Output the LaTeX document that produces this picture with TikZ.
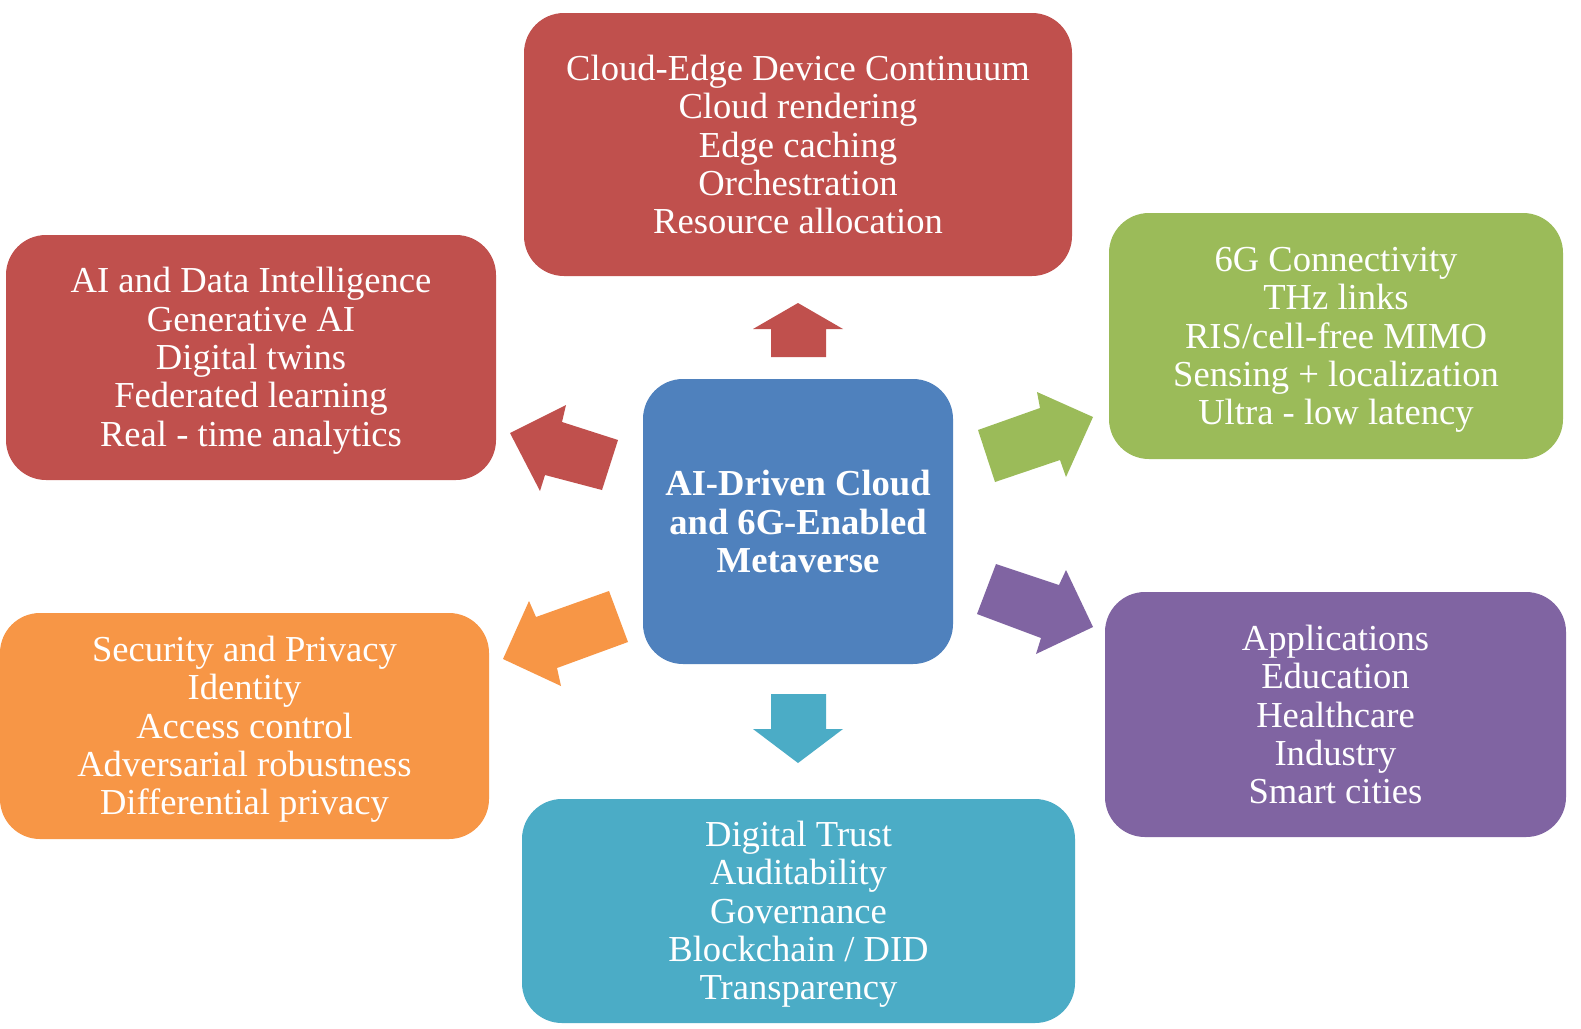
\documentclass[tikz,border=0pt]{standalone}
\usepackage{fontspec}
\setmainfont{Liberation Serif}
\definecolor{cred}{HTML}{C0504D}
\definecolor{cgreen}{HTML}{9BBB59}
\definecolor{cblue}{HTML}{4F81BD}
\definecolor{corange}{HTML}{F79646}
\definecolor{cteal}{HTML}{4BACC6}
\definecolor{cpurple}{HTML}{8064A2}
\newcommand\mytopstrut{\rule{0pt}{32pt}}
\tikzset{
  box/.style={rounded corners=40pt, inner sep=0pt, text=white, align=center,
    font=\fontsize{36.6}{38.3}\selectfont},
  bigarrow/.style={line join=miter}
}
\begin{document}
\begin{tikzpicture}[x=1pt,y=-1pt]
\useasboundingbox[fill=white] (0,0) rectangle (1581,1028);
% boxes
\node[box, fill=cred, minimum width=548pt, minimum height=263pt] (cloud) at (798,144.5)
  {Cloud-Edge Device Continuum\\Cloud rendering\\Edge caching\\Orchestration\\Resource allocation};
\node[box, fill=cred, minimum width=490pt, minimum height=245pt] (ai) at (251,357.5)
  {\mytopstrut AI and Data Intelligence\\Generative AI\\Digital twins\\Federated learning\\Real - time analytics};
\node[box, fill=cgreen, minimum width=454pt, minimum height=246pt] (sixg) at (1336,336)
  {\mytopstrut 6G Connectivity\\THz links\\RIS/cell-free MIMO\\Sensing + localization\\Ultra - low latency};
\node[box, fill=cblue, minimum width=310pt, minimum height=285pt, font=\fontsize{36.6}{38.3}\selectfont\bfseries] (core) at (798,521.5)
  {AI-Driven Cloud\\and 6G-Enabled\\Metaverse};
\node[box, fill=corange, minimum width=489pt, minimum height=226pt] (sec) at (244.5,726)
  {\mytopstrut Security and Privacy\\Identity\\Access control\\Adversarial robustness\\Differential privacy};
\node[box, fill=cteal, minimum width=553pt, minimum height=224pt] (trust) at (798.5,911)
  {\mytopstrut Digital Trust\\Auditability\\Governance\\Blockchain / DID\\Transparency};
\node[box, fill=cpurple, minimum width=461pt, minimum height=245pt] (app) at (1335.5,714.5)
  {Applications\\Education\\Healthcare\\Industry\\Smart cities};
% block arrows
\fill[cred, bigarrow] (798,303) -- (843,329) -- (826,329) -- (826,357) -- (771,357) -- (771,329) -- (753,329) -- cycle;
\fill[cteal, bigarrow] (798,763) -- (843,729) -- (826,729) -- (826,694) -- (771,694) -- (771,729) -- (753,729) -- cycle;
\fill[cred, bigarrow] (510,433) -- (566,405) -- (562,422) -- (618,440) -- (602,490) -- (545,475) -- (540,491) -- cycle;
\fill[cgreen, bigarrow] (1093,417) -- (1066,477) -- (1060,460) -- (995,482) -- (978,430) -- (1040,408) -- (1037,392) -- cycle;
\fill[cpurple, bigarrow] (1093,627) -- (1036,654) -- (1041,638) -- (977,614) -- (996,564) -- (1059,585) -- (1066,570) -- cycle;
\fill[corange, bigarrow] (503,659) -- (529,601) -- (536,617) -- (609,591) -- (628,642) -- (557,668) -- (561,686) -- cycle;
\end{tikzpicture}
\end{document}
